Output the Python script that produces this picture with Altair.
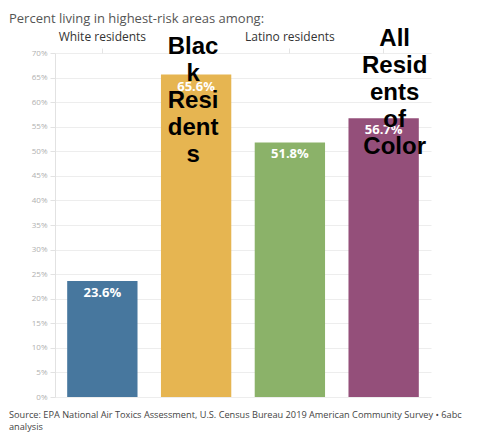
import altair as alt
import pandas as pd

groups = ["White residents", "Black Residents", "Latino residents", "All Residents of Color"]
values = [23.6, 65.6, 51.8, 56.7]
value_labels = ["23.6%", "65.6%", "51.8%", "56.7%"]
colors = ["#47779e", "#e6b551", "#8bb269", "#944f7a"]
header_text = ["White residents", "Blac\nk\nResi\ndent\ns", "Latino residents", "All\nResid\nents\nof\nColor"]
y_ticks = list(range(0, 75, 5))

title_text = "Percent living in highest-risk areas among:"
source_text = ("Source: EPA National Air Toxics Assessment, U.S. Census Bureau 2019 American Community Survey \u2022 6abc\n"
               "analysis")

df = pd.DataFrame({"group": groups, "value": values, "label": value_labels, "header": header_text})

x_enc = alt.X(
    "group:N", sort=groups,
    scale=alt.Scale(paddingInner=0.25, paddingOuter=0.13),
    axis=alt.Axis(orient="top", labels=False, domain=False, ticks=True,
                  tickColor="#e4e4e4", tickSize=5, title=None, grid=False),
)
y_enc = alt.Y(
    "value:Q",
    scale=alt.Scale(domain=[0, 70], nice=False),
    axis=alt.Axis(values=y_ticks, labelExpr="datum.value + '%'", title=None,
                  gridColor="#ededed", tickColor="#e2e2e2", tickSize=5,
                  domainColor="#e2e2e2", labelColor="#b0b0b0", labelFontSize=8,
                  labelFont="Open Sans", labelPadding=3, labelOverlap=False),
)

base = alt.Chart(df)

bars = base.mark_bar().encode(
    x=x_enc, y=y_enc,
    color=alt.Color("group:N", sort=groups, scale=alt.Scale(domain=groups, range=colors), legend=None),
)

vals = base.mark_text(baseline="middle", dy=12, color="white", fontWeight="bold",
                      fontSize=13, font="Open Sans").encode(
    x=x_enc, y=y_enc, text="label:N")

hdr_small = base.transform_filter(
    alt.FieldOneOfPredicate(field="group", oneOf=[groups[0], groups[2]])
).mark_text(baseline="middle", fontSize=12, font="Open Sans", color="#333333").encode(
    x=x_enc, y=alt.value(-16), text="header:N")

hdr_black = base.transform_filter(
    alt.FieldEqualPredicate(field="group", equal=groups[1])
).mark_text(baseline="alphabetic", fontSize=24, fontWeight="bold", font="Liberation Sans",
            color="black", lineBreak="\n", lineHeight=27, dx=-3).encode(
    x=x_enc, y=alt.value(1), text="header:N")

hdr_all = base.transform_filter(
    alt.FieldEqualPredicate(field="group", equal=groups[3])
).mark_text(baseline="alphabetic", fontSize=24, fontWeight="bold", font="Liberation Sans",
            color="black", lineBreak="\n", lineHeight=27, dx=11).encode(
    x=x_enc, y=alt.value(-7), text="header:N")

title = alt.Chart(pd.DataFrame({"t": [title_text]})).mark_text(
    align="left", baseline="top", fontSize=13, font="Open Sans", color="#555555"
).encode(x=alt.value(-46), y=alt.value(-40), text="t:N")

source = alt.Chart(pd.DataFrame({"t": [source_text]})).mark_text(
    align="left", baseline="top", fontSize=9.2, font="Open Sans", color="#444444",
    lineBreak="\n", lineHeight=12
).encode(x=alt.value(-46), y=alt.value(358), text="t:N")

chart = alt.layer(bars, vals, hdr_small, hdr_black, hdr_all, title, source).properties(
    width=376, height=344,
    padding={"left": 47, "top": 45, "right": 44, "bottom": 37},
    autosize="none",
).configure_view(stroke=None)

chart.save("out.html", embed_options={"renderer": "svg", "actions": False})
